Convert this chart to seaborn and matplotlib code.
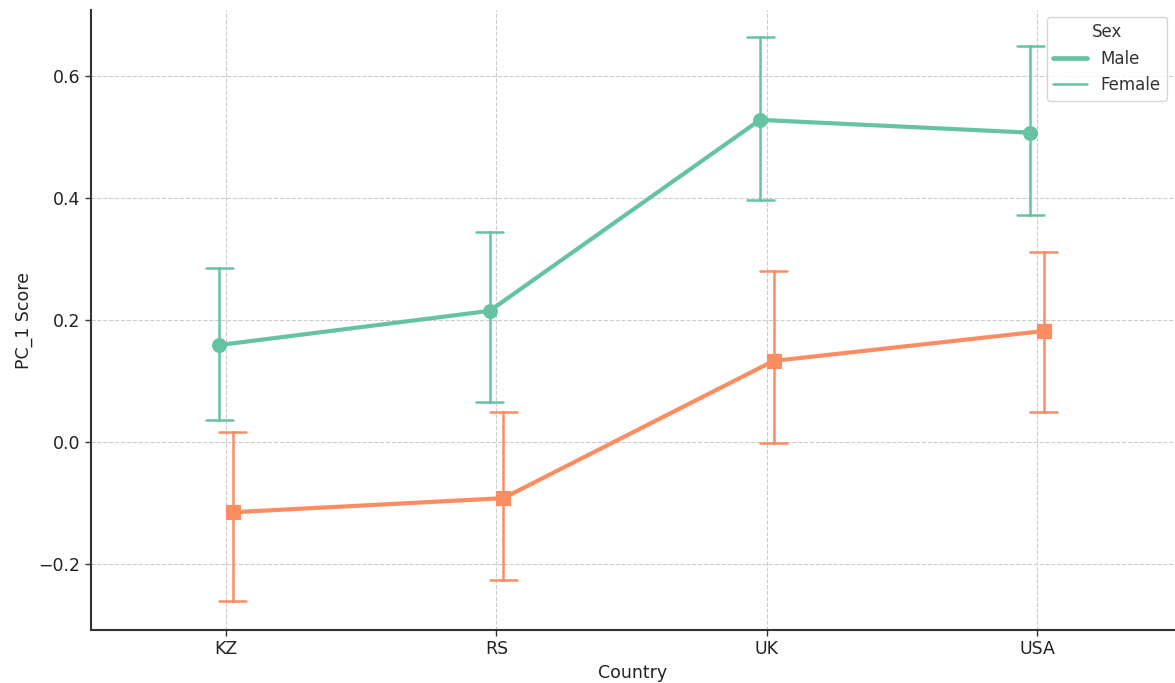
import matplotlib
matplotlib.use("Agg")
import matplotlib.pyplot as plt
from matplotlib.lines import Line2D
import seaborn as sns
import pandas as pd

countries = ["KZ", "RS", "UK", "USA"]
sexes = ["Male", "Female"]
# point estimates and interval bounds
male_mid = [0.159, 0.215, 0.528, 0.507]
male_lo = [0.036, 0.066, 0.397, 0.372]
male_hi = [0.285, 0.344, 0.664, 0.649]
female_mid = [-0.115, -0.092, 0.133, 0.182]
female_lo = [-0.261, -0.226, -0.002, 0.049]
female_hi = [0.016, 0.049, 0.280, 0.311]

rows = []
for sex, mid, lo, hi in [("Male", male_mid, male_lo, male_hi),
                         ("Female", female_mid, female_lo, female_hi)]:
    for c, m, l, h in zip(countries, mid, lo, hi):
        for v in (l, m, h):
            rows.append({"Country": c, "Sex": sex, "PC_1 Score": v})
df = pd.DataFrame(rows)

sns.set_style("whitegrid")
plt.rcParams["font.family"] = ["DejaVu Sans"]

palette = {"Male": "#66c2a5", "Female": "#fc8d62"}

fig = plt.figure(figsize=(11.75, 6.83), dpi=100)
ax = fig.add_axes([0.0774, 0.0776, 0.9226, 0.9077])

sns.pointplot(data=df, x="Country", y="PC_1 Score", hue="Sex",
              order=countries, hue_order=sexes, palette=palette,
              estimator="median", errorbar=("pi", 100),
              dodge=0.05, markers=["o", "s"], linestyles=["-", "-"],
              capsize=0.1, linewidth=3.0, markersize=8.5,
              err_kws={"linewidth": 1.8}, ax=ax, legend=False)

ax.set_xlim(-0.5, 3.51)
ax.set_ylim(-0.308, 0.708)
ax.set_yticks([-0.2, 0.0, 0.2, 0.4, 0.6])
ax.grid(True, linestyle="--", color="#cccccc", linewidth=0.8)
for s in ["top", "right"]:
    ax.spines[s].set_visible(False)
for s in ["left", "bottom"]:
    ax.spines[s].set_color("#333333")
    ax.spines[s].set_linewidth(1.5)
ax.tick_params(axis="both", labelsize=12.5, colors="#333333", length=4,
               width=1, bottom=True, left=True, labelcolor="#222222")
ax.set_xlabel("Country", fontsize=12.5, color="#222222")
ax.set_ylabel("PC_1 Score", fontsize=12.5, color="#222222")

handles = [Line2D([], [], color=palette["Male"], linewidth=3.4),
           Line2D([], [], color=palette["Male"], linewidth=1.8)]
leg = ax.legend(handles=handles, labels=sexes, title="Sex", loc="upper right",
                fontsize=12, title_fontsize=12, frameon=True,
                fancybox=True, edgecolor="#cccccc",
                bbox_to_anchor=(1.0, 1.003))
for t in leg.get_texts():
    t.set_color("#333333")
leg.get_title().set_color("#333333")

fig.savefig("out.png", dpi=100)
